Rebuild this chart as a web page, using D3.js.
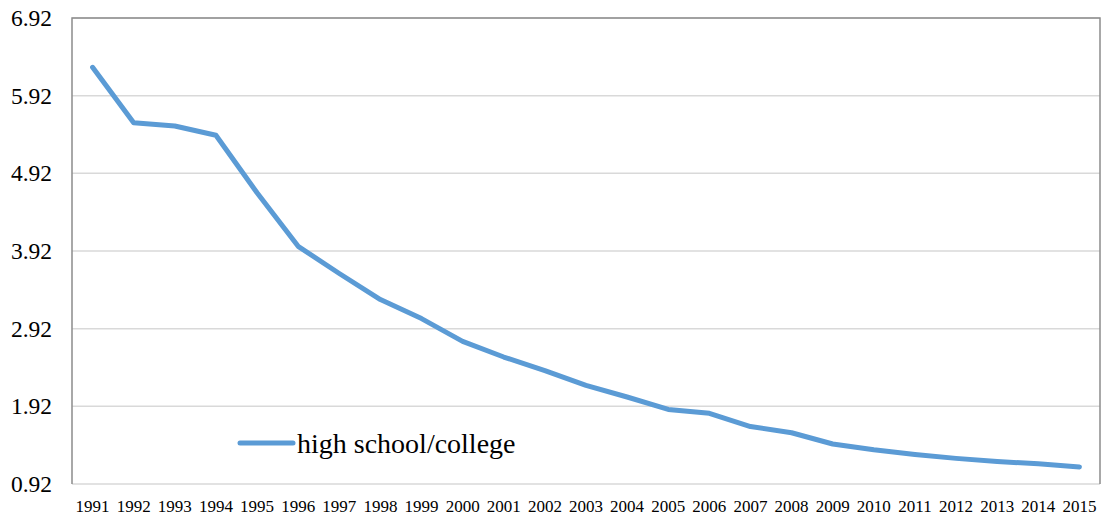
<!DOCTYPE html>
<html>
<head>
<meta charset="utf-8">
<script src="https://cdn.jsdelivr.net/npm/d3@7"></script>
<style>
  body { margin: 0; background: #fff; }
  svg text { font-family: "Liberation Serif", "Times New Roman", serif !important; }
</style>
</head>
<body>
<div id="holder"></div>
<script>
const w = 1105;
const h = 521;
const margin = { top: 18, right: 5, bottom: 37, left: 72 };

// DATA
const years = ["1991", "1992", "1993", "1994", "1995", "1996", "1997", "1998", "1999", "2000",
  "2001", "2002", "2003", "2004", "2005", "2006", "2007", "2008", "2009", "2010",
  "2011", "2012", "2013", "2014", "2015"];
const ratio = [6.285, 5.57, 5.53, 5.41, 4.67, 3.98, 3.63, 3.295, 3.05, 2.757,
  2.555, 2.38, 2.19, 2.04, 1.88, 1.83, 1.66, 1.58, 1.435, 1.36,
  1.30, 1.25, 1.21, 1.18, 1.14];
const yTicks = [0.92, 1.92, 2.92, 3.92, 4.92, 5.92, 6.92];
const seriesName = "high school/college";

const svg = d3.select("#holder")
  .append("svg")
  .attr("width", w)
  .attr("height", h);

const x = d3.scaleBand()
  .domain(years)
  .range([margin.left, w - margin.right]);

const y = d3.scaleLinear()
  .domain([0.92, 6.92])
  .range([h - margin.bottom, margin.top]);

// GRID
svg.append("g")
  .selectAll("line")
  .data(yTicks)
  .enter()
  .append("line")
  .attr("x1", margin.left)
  .attr("x2", w - margin.right)
  .attr("y1", d => y(d))
  .attr("y2", d => y(d))
  .attr("stroke", "#d9d9d9")
  .attr("stroke-width", 1.5);

// BORDER (left, top, right)
svg.append("path")
  .attr("d", `M${margin.left},${h - margin.bottom}V${margin.top}H${w - margin.right}V${h - margin.bottom}`)
  .attr("fill", "none")
  .attr("stroke", "#8c8c8c")
  .attr("stroke-width", 1.5);

// Y AXIS LABELS
const yAxis = d3.axisLeft(y)
  .tickValues(yTicks)
  .tickSize(0)
  .tickPadding(20)
  .tickFormat(d3.format(".2f"));

svg.append("g")
  .attr("transform", `translate(${margin.left},0)`)
  .call(yAxis)
  .call(g => g.select(".domain").remove())
  .selectAll("text")
  .style("font-size", "23.5px")
  .attr("fill", "#000");

// X AXIS LABELS
const xAxis = d3.axisBottom(x).tickSize(0).tickPadding(16);

svg.append("g")
  .attr("transform", `translate(0,${h - margin.bottom})`)
  .call(xAxis)
  .call(g => g.select(".domain").remove())
  .selectAll("text")
  .style("font-size", "17px")
  .attr("fill", "#000");

// LINE
const line = d3.line()
  .x((d, i) => x(years[i]) + x.bandwidth() / 2)
  .y(d => y(d));

svg.append("path")
  .datum(ratio)
  .attr("d", line)
  .attr("fill", "none")
  .attr("stroke", "#5b9bd5")
  .attr("stroke-width", 5)
  .attr("stroke-linecap", "round")
  .attr("stroke-linejoin", "round");

// LEGEND
svg.append("line")
  .attr("x1", 240)
  .attr("x2", 293)
  .attr("y1", 443)
  .attr("y2", 443)
  .attr("stroke", "#5b9bd5")
  .attr("stroke-width", 5)
  .attr("stroke-linecap", "round");

svg.append("text")
  .attr("x", 297)
  .attr("y", 453)
  .style("font-size", "28px")
  .attr("fill", "#000")
  .text(seriesName);
</script>
</body>
</html>
